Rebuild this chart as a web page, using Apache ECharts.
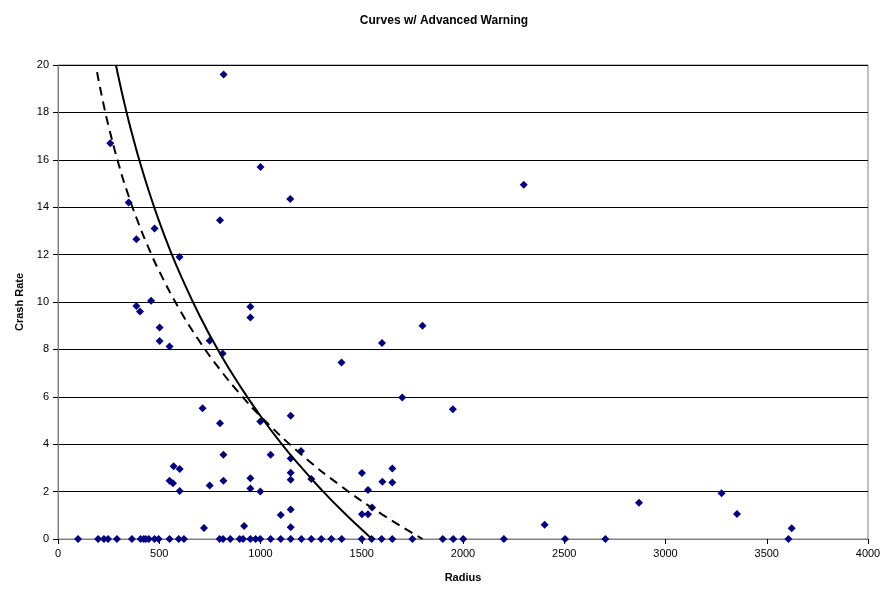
<!DOCTYPE html>
<html>
<head>
<meta charset="utf-8">
<script src="https://cdn.jsdelivr.net/npm/echarts@6/dist/echarts.min.js"></script>
<style>
  html, body { margin: 0; padding: 0; background: #fff; }
  #chart { width: 888px; height: 590px; }
</style>
</head>
<body>
<div id="chart"></div>
<script>
// Observed crash rates by curve radius (ft)
const radius = [
  818, 258, 1000, 1147, 349, 2300, 800, 477, 387, 600,
  460, 387, 405, 950, 950, 502, 502, 551, 749, 813,
  1400, 1600, 1800, 1700, 1950, 714, 800, 1149, 999, 817,
  1050, 1149, 1200, 571, 601, 551, 568, 601, 749, 817,
  950, 950, 999, 1149, 1149, 1251, 1501, 1651, 1602, 1651,
  1531, 721, 919, 1100, 1149, 1149, 1501, 1531, 1551, 2403,
  2869, 3277, 3353, 3623,
  // sites with no crashes
  99, 198, 227, 247, 291, 365, 408, 423, 433, 448,
  477, 497, 551, 596, 622, 798, 815, 851, 897, 914,
  950, 976, 999, 1050, 1100, 1149, 1202, 1251, 1300, 1350,
  1401, 1500, 1549, 1598, 1651, 1750, 1900, 1952, 2001, 2202,
  2504, 2703, 3607
];
const crashRate = [
  19.6, 16.7, 15.7, 14.35, 14.2, 14.95, 13.45, 13.1, 12.65, 11.9,
  10.05, 9.83, 9.6, 9.8, 9.35, 8.92, 8.35, 8.12, 8.37, 7.83,
  7.45, 8.27, 9.0, 5.97, 5.47, 5.52, 4.88, 5.2, 4.96, 3.55,
  3.56, 3.4, 3.71, 3.07, 2.95, 2.46, 2.35, 2.03, 2.26, 2.46,
  2.56, 2.13, 2.0, 2.8, 2.5, 2.53, 2.78, 2.97, 2.42, 2.38,
  2.07, 0.46, 0.55, 1.01, 1.25, 0.5, 1.04, 1.04, 1.33, 0.6,
  1.53, 1.93, 1.05, 0.45,
  0, 0, 0, 0, 0, 0, 0, 0, 0, 0,
  0, 0, 0, 0, 0, 0, 0, 0, 0, 0,
  0, 0, 0, 0, 0, 0, 0, 0, 0, 0,
  0, 0, 0, 0, 0, 0, 0, 0, 0, 0,
  0, 0, 0
];

// Logarithmic trend curves
const trendSolidX = [286, 300, 325, 350, 375, 400, 450, 500, 550, 600, 700, 800, 900, 1000, 1100, 1200, 1300, 1400, 1500, 1551];
const trendSolidY = [20.0, 19.44, 18.49, 17.61, 16.8, 16.03, 14.64, 13.39, 12.26, 11.24, 9.41, 7.83, 6.44, 5.19, 4.06, 3.04, 2.09, 1.21, 0.4, 0];
const trendDashX = [193, 200, 225, 250, 300, 350, 400, 450, 500, 600, 700, 800, 900, 1000, 1200, 1400, 1600, 1800];
const trendDashY = [19.7, 19.38, 18.34, 17.41, 15.8, 14.44, 13.27, 12.23, 11.3, 9.69, 8.33, 7.15, 6.11, 5.18, 3.58, 2.22, 1.04, 0];

const xTicks = { min: 0, max: 4000, step: 500 };
const yTicks = { min: 0, max: 20, step: 2 };

const pairs = (xs, ys) => xs.map((x, i) => [x, ys[i]]);
const FONT = 'Liberation Sans, Arial, sans-serif';

const chart = echarts.init(document.getElementById('chart'), null, { renderer: 'canvas' });
chart.setOption({
  backgroundColor: '#ffffff',
  animation: false,
  title: {
    text: 'Curves w/ Advanced Warning',
    left: 'center',
    top: 10,
    textStyle: { fontFamily: FONT, fontSize: 12, fontWeight: 'bold', color: '#000' }
  },
  grid: {
    left: 58, right: 20, top: 65, bottom: 51,
    show: true, borderColor: '#808080', borderWidth: 1, backgroundColor: '#fff'
  },
  xAxis: {
    type: 'value',
    min: xTicks.min, max: xTicks.max, interval: xTicks.step,
    name: 'Radius',
    nameLocation: 'middle',
    nameGap: 33,
    nameTextStyle: { fontFamily: FONT, fontSize: 11, fontWeight: 'bold', color: '#000' },
    axisLine: { show: true, onZero: false, lineStyle: { color: '#808080', width: 1 } },
    axisTick: { show: true, inside: false, length: 5, lineStyle: { color: '#000' } },
    axisLabel: { fontFamily: FONT, fontSize: 11, color: '#000', margin: 9, formatter: v => String(v) },
    splitLine: { show: false }
  },
  yAxis: {
    type: 'value',
    min: yTicks.min, max: yTicks.max, interval: yTicks.step,
    name: 'Crash Rate',
    nameLocation: 'middle',
    nameGap: 32,
    nameRotate: 90,
    nameTextStyle: { fontFamily: FONT, fontSize: 11, fontWeight: 'bold', color: '#000' },
    axisLine: { show: true, lineStyle: { color: '#808080', width: 1 } },
    axisTick: { show: true, inside: false, length: 5, lineStyle: { color: '#000' } },
    axisLabel: { fontFamily: FONT, fontSize: 11, color: '#000', margin: 9 },
    splitLine: { show: true, lineStyle: { color: '#000', width: 1, type: 'solid' } }
  },
  series: [
    {
      name: 'Crash Rate',
      type: 'scatter',
      symbol: 'diamond',
      symbolSize: 8,
      itemStyle: { color: '#000080', opacity: 1 },
      data: pairs(radius, crashRate),
      z: 2
    },
    {
      name: 'Trend A',
      type: 'line',
      smooth: true,
      showSymbol: false,
      lineStyle: { color: '#000', width: 2, type: 'solid' },
      data: pairs(trendSolidX, trendSolidY),
      z: 3
    },
    {
      name: 'Trend B',
      type: 'line',
      smooth: true,
      showSymbol: false,
      lineStyle: { color: '#000', width: 2, type: [9, 6] },
      data: pairs(trendDashX, trendDashY),
      z: 3
    }
  ]
});
</script>
</body>
</html>
